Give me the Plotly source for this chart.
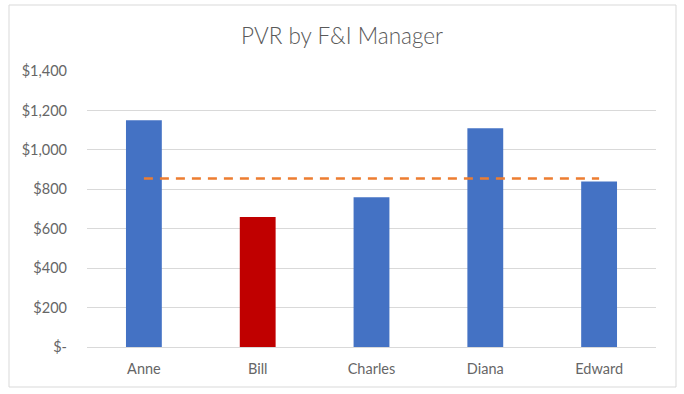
import plotly.graph_objects as go

managers = ["Anne", "Bill", "Charles", "Diana", "Edward"]
pvr = [1150, 660, 760, 1110, 840]
bar_colors = ["#4472C4", "#C00000", "#4472C4", "#4472C4", "#4472C4"]
target = [855, 855, 855, 855, 855]
tick_vals = [0, 200, 400, 600, 800, 1000, 1200, 1400]
tick_text = ["$-", "$200", "$400", "$600", "$800", "$1,000", "$1,200", "$1,400"]

W, H = 684, 394
L, R, T, B = 87, 28, 71, 47

fig = go.Figure()
fig.add_trace(go.Bar(x=managers, y=pvr, marker=dict(color=bar_colors, line=dict(width=0)),
                     width=0.315, showlegend=False))
fig.add_trace(go.Scatter(x=managers, y=target, mode="lines",
                         line=dict(color="#ED7D31", width=2.5, dash="9px,7px"),
                         showlegend=False))

pw = W - L - R
ph = H - T - B
fig.add_shape(type="rect", xref="paper", yref="paper",
              x0=(9 - L) / pw, x1=(676 - L) / pw,
              y0=-(387 - (H - B)) / ph, y1=((H - B) - 5) / ph,
              line=dict(color="#D9D9D9", width=1), fillcolor="rgba(0,0,0,0)", layer="below")

fig.update_layout(
    width=W, height=H,
    margin=dict(l=L, r=R, t=T, b=B),
    paper_bgcolor="white", plot_bgcolor="white",
    font=dict(family="Lato, Carlito, Calibri, sans-serif", color="#595959", size=14.5),
    title=dict(text="PVR by F&I Manager", x=0.5, xref="container", xanchor="center",
               y=1 - 36 / H, yref="container", yanchor="middle",
               font=dict(size=22.5, color="#595959", family="Lato, Carlito, sans-serif",
                         weight=300)),
    bargap=0.685,
)
fig.update_xaxes(showgrid=False, showline=False, ticks="", ticklabelstandoff=11,
                 tickfont=dict(size=14.5, color="#666666"))
fig.update_yaxes(range=[0, 1400], tickvals=tick_vals, ticktext=tick_text,
                 showgrid=True, gridcolor="#D9D9D9", gridwidth=1,
                 zeroline=True, zerolinecolor="#D9D9D9", zerolinewidth=1,
                 showline=False, ticks="", ticklabelstandoff=19,
                 tickfont=dict(size=14.5, color="#666666"))

fig.write_html("out.html", config={"displayModeBar": False},
               post_script="document.body.style.margin='0';")
